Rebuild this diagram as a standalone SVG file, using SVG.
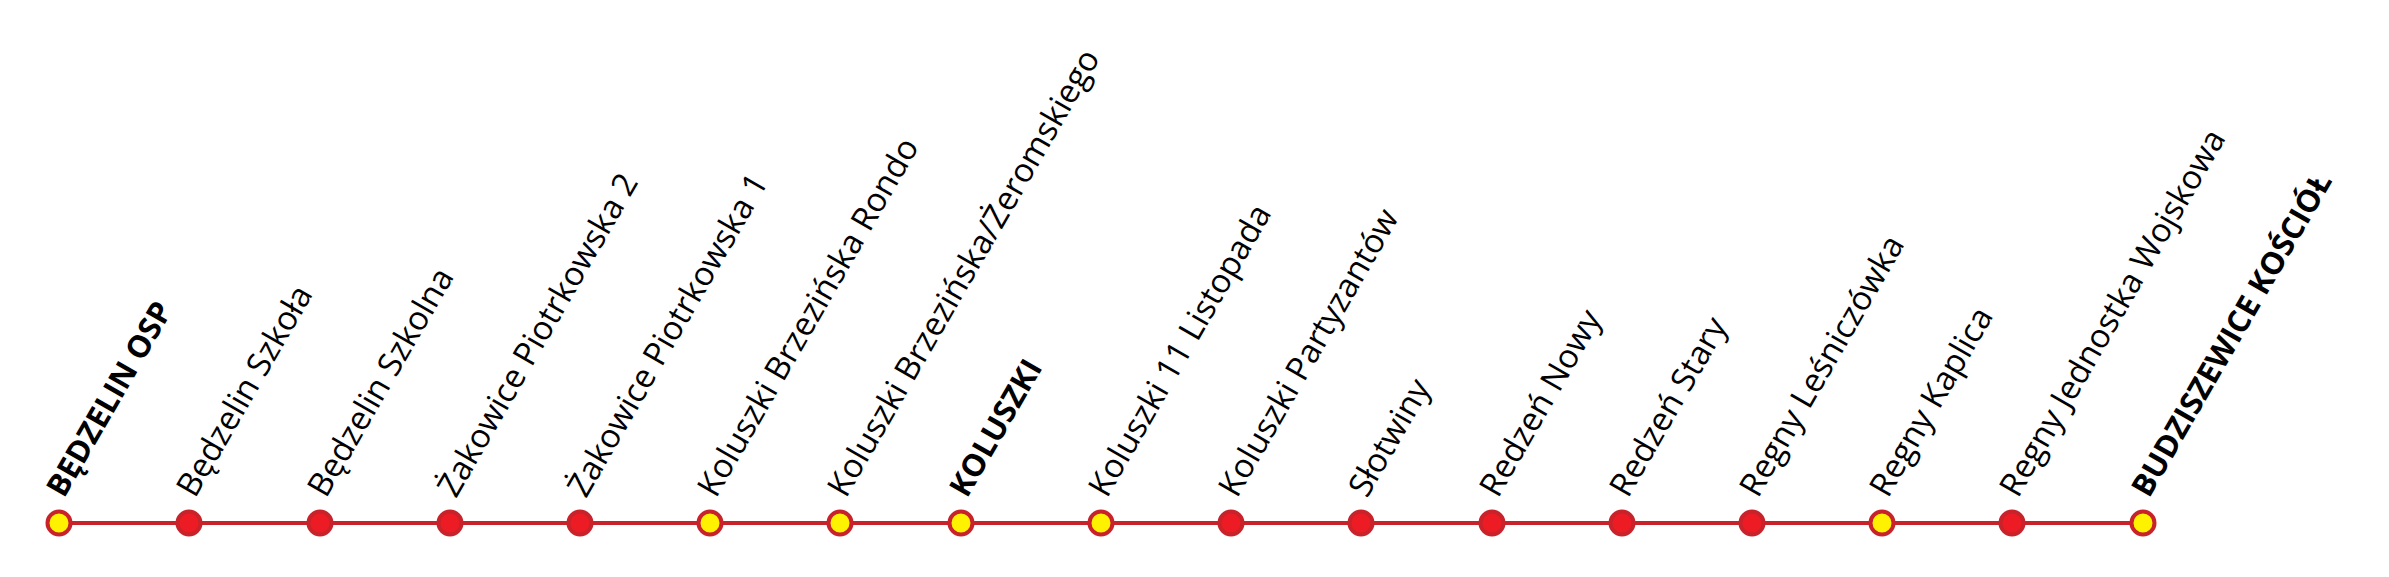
<svg xmlns="http://www.w3.org/2000/svg" width="2389" height="577" viewBox="0 0 2389 577">
<style>
.lbl{font-family:"Open Sans","Liberation Sans",sans-serif;font-size:33px;fill:#000}
.b{font-weight:bold;font-size:31px}
.st{stroke:#C8222B;stroke-width:4}
.red{fill:#ED1C24}
.yel{fill:#FFF200}
</style>
<rect width="2389" height="577" fill="#fff"/>
<g id="connectors">
<line x1="59" y1="523" x2="2143" y2="523" stroke="#C8222B" stroke-width="4"/>
</g>
<g id="n0"><circle cx="59" cy="523" r="11.5" class="st yel"/><text class="lbl b" transform="translate(64,499) rotate(-60)">BĘDZELIN OSP</text></g>
<g id="n1"><circle cx="189" cy="523" r="11.5" class="st red"/><text class="lbl" transform="translate(195,499) rotate(-60)">Będzelin Szkoła</text></g>
<g id="n2"><circle cx="320" cy="523" r="11.5" class="st red"/><text class="lbl" transform="translate(326,499) rotate(-60)">Będzelin Szkolna</text></g>
<g id="n3"><circle cx="450" cy="523" r="11.5" class="st red"/><text class="lbl" transform="translate(456,499) rotate(-60)">Żakowice Piotrkowska 2</text></g>
<g id="n4"><circle cx="580" cy="523" r="11.5" class="st red"/><text class="lbl" transform="translate(586,499) rotate(-60)">Żakowice Piotrkowska 1</text></g>
<g id="n5"><circle cx="710" cy="523" r="11.5" class="st yel"/><text class="lbl" transform="translate(716,499) rotate(-60)">Koluszki Brzezińska Rondo</text></g>
<g id="n6"><circle cx="840" cy="523" r="11.5" class="st yel"/><text class="lbl" transform="translate(846,499) rotate(-60)">Koluszki Brzezińska/Żeromskiego</text></g>
<g id="n7"><circle cx="961" cy="523" r="11.5" class="st yel"/><text class="lbl b" transform="translate(967,499) rotate(-60)">KOLUSZKI</text></g>
<g id="n8"><circle cx="1101" cy="523" r="11.5" class="st yel"/><text class="lbl" transform="translate(1107,499) rotate(-60)">Koluszki 11 Listopada</text></g>
<g id="n9"><circle cx="1231" cy="523" r="11.5" class="st red"/><text class="lbl" transform="translate(1237,499) rotate(-60)">Koluszki Partyzantów</text></g>
<g id="n10"><circle cx="1361" cy="523" r="11.5" class="st red"/><text class="lbl" transform="translate(1367,499) rotate(-60)">Słotwiny</text></g>
<g id="n11"><circle cx="1492" cy="523" r="11.5" class="st red"/><text class="lbl" transform="translate(1498,499) rotate(-60)">Redzeń Nowy</text></g>
<g id="n12"><circle cx="1622" cy="523" r="11.5" class="st red"/><text class="lbl" transform="translate(1628,499) rotate(-60)">Redzeń Stary</text></g>
<g id="n13"><circle cx="1752" cy="523" r="11.5" class="st red"/><text class="lbl" transform="translate(1758,499) rotate(-60)">Regny Leśniczówka</text></g>
<g id="n14"><circle cx="1882" cy="523" r="11.5" class="st yel"/><text class="lbl" transform="translate(1888,499) rotate(-60)">Regny Kaplica</text></g>
<g id="n15"><circle cx="2012" cy="523" r="11.5" class="st red"/><text class="lbl" transform="translate(2018,499) rotate(-60)">Regny Jednostka Wojskowa</text></g>
<g id="n16"><circle cx="2143" cy="523" r="11.5" class="st yel"/><text class="lbl b" transform="translate(2149,499) rotate(-60)">BUDZISZEWICE KOŚCIÓŁ</text></g>
</svg>
